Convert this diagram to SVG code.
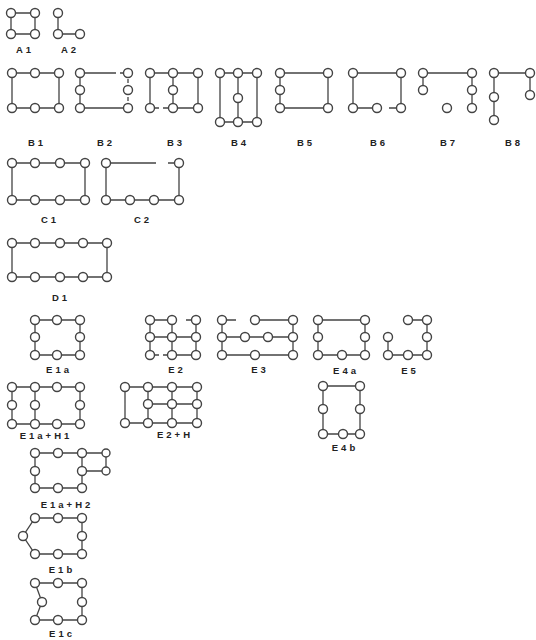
<svg xmlns="http://www.w3.org/2000/svg" width="536" height="640" viewBox="0 0 536 640">
<style>
.bg{fill:#fff}
.c{fill:none;stroke:#444;stroke-width:1.3}
.n circle{fill:#fff;stroke:#444;stroke-width:1.4}
.t{font-family:"Liberation Sans",Arial,sans-serif;font-weight:bold;font-size:9.5px;fill:#222;letter-spacing:3px;text-anchor:middle}
</style>
<rect class="bg" width="536" height="640"/>
<g id="connectors" class="c">
<path d="M11 13H35V34H11Z"/>
<path d="M58 13V34H80"/>
<path d="M12 73H59V108H12Z"/>
<path d="M80 73H116M120 73H128M80 73V108H128M128 79V83M128 97V101"/>
<path d="M150 73H198M150 73V108M173 73V108M198 73V108M173 108H198M150 108H159M163 108H173"/>
<path d="M220 73H257V122H220ZM238 73V122"/>
<path d="M280 73H328V108H280Z"/>
<path d="M353 108V73H401V108M353 108H377M389 108H401"/>
<path d="M423 90V73H472V108"/>
<path d="M494 120V73H530V95"/>
<path d="M12 163H85V200H12Z"/>
<path d="M106 200V163H156M168 163H179V200H106"/>
<path d="M12 243H107V277H12Z"/>
<path d="M35 320H80V355H35Z"/>
<path d="M150 320H172M186 320H196M150 337H196M163 355H196M150 355H159M150 320V355M172 320V355M196 320V355"/>
<path d="M222 320H236M255 320H293M222 337H293M222 355H293M222 320V355M293 320V355"/>
<path d="M318 320H365V355H318Z"/>
<path d="M408 320H427V355H388V337"/>
<path d="M323 386H360V434H323Z"/>
<path d="M12 387H80V424H12ZM35 387V424"/>
<path d="M125 387H197V423H125ZM148 387V423M172 387V423M148 404H197"/>
<path d="M35 453H106V471H82M35 453V488H82V453"/>
<path d="M35 518H82V554H35L23 536Z"/>
<path d="M35 583H82V620H35L42 602Z"/>
</g>
<g id="A1" class="n"><circle cx="11" cy="13" r="4.5"/><circle cx="35" cy="13" r="4.5"/><circle cx="11" cy="34" r="4.5"/><circle cx="35" cy="34" r="4.5"/><text class="t" x="25" y="53">A1</text></g>
<g id="A2" class="n"><circle cx="58" cy="13" r="4.5"/><circle cx="58" cy="34" r="4.5"/><circle cx="80" cy="34" r="4.5"/><text class="t" x="70" y="53">A2</text></g>
<g id="B1" class="n"><circle cx="12" cy="73" r="4.5"/><circle cx="35" cy="73" r="4.5"/><circle cx="59" cy="73" r="4.5"/><circle cx="12" cy="108" r="4.5"/><circle cx="35" cy="108" r="4.5"/><circle cx="59" cy="108" r="4.5"/><text class="t" x="37" y="146">B1</text></g>
<g id="B2" class="n"><circle cx="80" cy="73" r="4.5"/><circle cx="128" cy="73" r="4.5"/><circle cx="80" cy="90" r="4.5"/><circle cx="128" cy="90" r="4.5"/><circle cx="80" cy="108" r="4.5"/><circle cx="128" cy="108" r="4.5"/><text class="t" x="106" y="146">B2</text></g>
<g id="B3" class="n"><circle cx="150" cy="73" r="4.5"/><circle cx="173" cy="73" r="4.5"/><circle cx="198" cy="73" r="4.5"/><circle cx="173" cy="90" r="4.5"/><circle cx="150" cy="108" r="4.5"/><circle cx="173" cy="108" r="4.5"/><circle cx="198" cy="108" r="4.5"/><text class="t" x="176" y="146">B3</text></g>
<g id="B4" class="n"><circle cx="220" cy="73" r="4.5"/><circle cx="238" cy="73" r="4.5"/><circle cx="257" cy="73" r="4.5"/><circle cx="238" cy="98" r="4.5"/><circle cx="220" cy="122" r="4.5"/><circle cx="238" cy="122" r="4.5"/><circle cx="257" cy="122" r="4.5"/><text class="t" x="240" y="146">B4</text></g>
<g id="B5" class="n"><circle cx="280" cy="73" r="4.5"/><circle cx="328" cy="73" r="4.5"/><circle cx="280" cy="90" r="4.5"/><circle cx="280" cy="108" r="4.5"/><circle cx="328" cy="108" r="4.5"/><text class="t" x="306" y="146">B5</text></g>
<g id="B6" class="n"><circle cx="353" cy="73" r="4.5"/><circle cx="401" cy="73" r="4.5"/><circle cx="353" cy="108" r="4.5"/><circle cx="377" cy="108" r="4.5"/><circle cx="401" cy="108" r="4.5"/><text class="t" x="379" y="146">B6</text></g>
<g id="B7" class="n"><circle cx="423" cy="73" r="4.5"/><circle cx="472" cy="73" r="4.5"/><circle cx="423" cy="90" r="4.5"/><circle cx="472" cy="90" r="4.5"/><circle cx="447" cy="108" r="4.5"/><circle cx="472" cy="108" r="4.5"/><text class="t" x="449" y="146">B7</text></g>
<g id="B8" class="n"><circle cx="494" cy="73" r="4.5"/><circle cx="530" cy="73" r="4.5"/><circle cx="494" cy="97" r="4.5"/><circle cx="494" cy="120" r="4.5"/><circle cx="530" cy="95" r="4.5"/><text class="t" x="514" y="146">B8</text></g>
<g id="C1" class="n"><circle cx="12" cy="163" r="4.5"/><circle cx="35" cy="163" r="4.5"/><circle cx="60" cy="163" r="4.5"/><circle cx="85" cy="163" r="4.5"/><circle cx="12" cy="200" r="4.5"/><circle cx="35" cy="200" r="4.5"/><circle cx="60" cy="200" r="4.5"/><circle cx="85" cy="200" r="4.5"/><text class="t" x="50" y="223">C1</text></g>
<g id="C2" class="n"><circle cx="106" cy="163" r="4.5"/><circle cx="179" cy="163" r="4.5"/><circle cx="106" cy="200" r="4.5"/><circle cx="130" cy="200" r="4.5"/><circle cx="154" cy="200" r="4.5"/><circle cx="179" cy="200" r="4.5"/><text class="t" x="143" y="223">C2</text></g>
<g id="D1" class="n"><circle cx="12" cy="243" r="4.5"/><circle cx="35" cy="243" r="4.5"/><circle cx="60" cy="243" r="4.5"/><circle cx="83" cy="243" r="4.5"/><circle cx="107" cy="243" r="4.5"/><circle cx="12" cy="277" r="4.5"/><circle cx="35" cy="277" r="4.5"/><circle cx="60" cy="277" r="4.5"/><circle cx="83" cy="277" r="4.5"/><circle cx="107" cy="277" r="4.5"/><text class="t" x="61" y="301">D1</text></g>
<g id="E1a" class="n"><circle cx="35" cy="320" r="4.5"/><circle cx="57" cy="320" r="4.5"/><circle cx="80" cy="320" r="4.5"/><circle cx="35" cy="337" r="4.5"/><circle cx="80" cy="337" r="4.5"/><circle cx="35" cy="355" r="4.5"/><circle cx="57" cy="355" r="4.5"/><circle cx="80" cy="355" r="4.5"/><text class="t" x="59" y="373">E1a</text></g>
<g id="E2" class="n"><circle cx="150" cy="320" r="4.5"/><circle cx="172" cy="320" r="4.5"/><circle cx="196" cy="320" r="4.5"/><circle cx="150" cy="337" r="4.5"/><circle cx="172" cy="337" r="4.5"/><circle cx="196" cy="337" r="4.5"/><circle cx="150" cy="355" r="4.5"/><circle cx="172" cy="355" r="4.5"/><circle cx="196" cy="355" r="4.5"/><text class="t" x="177" y="373">E2</text></g>
<g id="E3" class="n"><circle cx="222" cy="320" r="4.5"/><circle cx="255" cy="320" r="4.5"/><circle cx="293" cy="320" r="4.5"/><circle cx="222" cy="337" r="4.5"/><circle cx="245" cy="337" r="4.5"/><circle cx="268" cy="337" r="4.5"/><circle cx="293" cy="337" r="4.5"/><circle cx="222" cy="355" r="4.5"/><circle cx="255" cy="355" r="4.5"/><circle cx="293" cy="355" r="4.5"/><text class="t" x="260" y="373">E3</text></g>
<g id="E4a" class="n"><circle cx="318" cy="320" r="4.5"/><circle cx="365" cy="320" r="4.5"/><circle cx="318" cy="337" r="4.5"/><circle cx="365" cy="337" r="4.5"/><circle cx="318" cy="355" r="4.5"/><circle cx="342" cy="355" r="4.5"/><circle cx="365" cy="355" r="4.5"/><text class="t" x="346" y="374">E4a</text></g>
<g id="E5" class="n"><circle cx="408" cy="320" r="4.5"/><circle cx="427" cy="320" r="4.5"/><circle cx="388" cy="337" r="4.5"/><circle cx="427" cy="337" r="4.5"/><circle cx="388" cy="355" r="4.5"/><circle cx="408" cy="355" r="4.5"/><circle cx="427" cy="355" r="4.5"/><text class="t" x="410" y="374">E5</text></g>
<g id="E4b" class="n"><circle cx="323" cy="386" r="4.5"/><circle cx="360" cy="386" r="4.5"/><circle cx="323" cy="409" r="4.5"/><circle cx="360" cy="409" r="4.5"/><circle cx="323" cy="434" r="4.5"/><circle cx="343" cy="434" r="4.5"/><circle cx="360" cy="434" r="4.5"/><text class="t" x="345" y="451">E4b</text></g>
<g id="E1a_H1" class="n"><circle cx="12" cy="387" r="4.5"/><circle cx="35" cy="387" r="4.5"/><circle cx="57" cy="387" r="4.5"/><circle cx="80" cy="387" r="4.5"/><circle cx="12" cy="405" r="4.5"/><circle cx="35" cy="405" r="4.5"/><circle cx="80" cy="405" r="4.5"/><circle cx="12" cy="424" r="4.5"/><circle cx="35" cy="424" r="4.5"/><circle cx="57" cy="424" r="4.5"/><circle cx="80" cy="424" r="4.5"/><text class="t" x="46" y="439">E1a+H1</text></g>
<g id="E2_H" class="n"><circle cx="125" cy="387" r="4.5"/><circle cx="148" cy="387" r="4.5"/><circle cx="172" cy="387" r="4.5"/><circle cx="197" cy="387" r="4.5"/><circle cx="148" cy="404" r="4.5"/><circle cx="172" cy="404" r="4.5"/><circle cx="197" cy="404" r="4.5"/><circle cx="125" cy="423" r="4.5"/><circle cx="148" cy="423" r="4.5"/><circle cx="172" cy="423" r="4.5"/><circle cx="197" cy="423" r="4.5"/><text class="t" x="175" y="438">E2+H</text></g>
<g id="E1a_H2" class="n"><circle cx="35" cy="453" r="4.5"/><circle cx="58" cy="453" r="4.5"/><circle cx="82" cy="453" r="4.5"/><circle cx="106" cy="453" r="4"/><circle cx="35" cy="471" r="4.5"/><circle cx="82" cy="471" r="4.5"/><circle cx="106" cy="471" r="4"/><circle cx="35" cy="488" r="4.5"/><circle cx="58" cy="488" r="4.5"/><circle cx="82" cy="488" r="4.5"/><text class="t" x="67" y="508">E1a+H2</text></g>
<g id="E1b" class="n"><circle cx="35" cy="518" r="4.5"/><circle cx="58" cy="518" r="4.5"/><circle cx="82" cy="518" r="4.5"/><circle cx="23" cy="536" r="4.5"/><circle cx="82" cy="536" r="4.5"/><circle cx="35" cy="554" r="4.5"/><circle cx="58" cy="554" r="4.5"/><circle cx="82" cy="554" r="4.5"/><text class="t" x="62" y="573">E1b</text></g>
<g id="E1c" class="n"><circle cx="35" cy="583" r="4.5"/><circle cx="58" cy="583" r="4.5"/><circle cx="82" cy="583" r="4.5"/><circle cx="42" cy="602" r="4.5"/><circle cx="82" cy="602" r="4.5"/><circle cx="35" cy="620" r="4.5"/><circle cx="58" cy="620" r="4.5"/><circle cx="82" cy="620" r="4.5"/><text class="t" x="62" y="637">E1c</text></g>
</svg>
